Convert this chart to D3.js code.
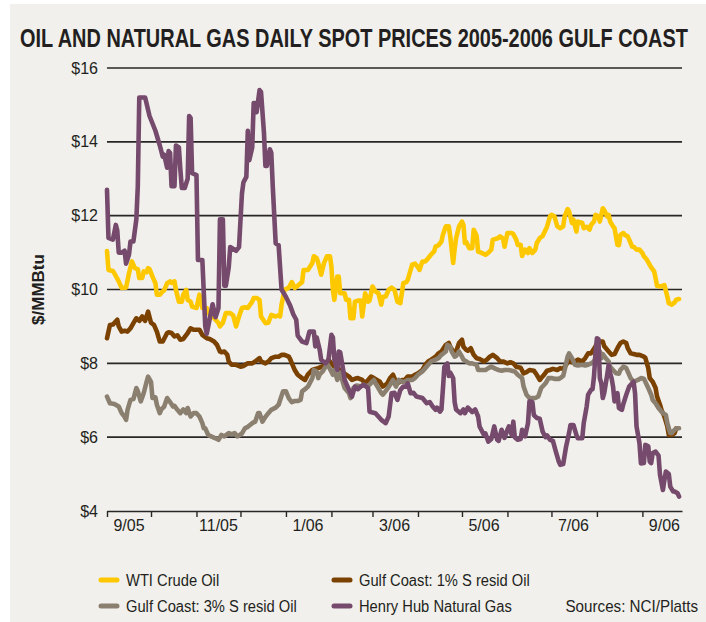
<!DOCTYPE html>
<html>
<head>
<meta charset="utf-8">
<script src="https://cdn.jsdelivr.net/npm/d3@7"></script>
<style>
  body { margin: 0; background: #fff; }
  svg { display: block; }
  text { font-family: "Liberation Sans", Arial, sans-serif; fill: #231f20; }
</style>
</head>
<body>
<svg width="706" height="622"></svg>
<script>
// daily spot prices, $/MMBtu
var wti = [["2005-09-01",11.04],["2005-09-02",10.53],["2005-09-05",10.5],["2005-09-06",10.44],["2005-09-09",10.22],["2005-09-11",10.04],["2005-09-14",10.05],["2005-09-16",10.44],["2005-09-18",10.76],["2005-09-20",10.58],["2005-09-22",10.55],["2005-09-23",10.31],["2005-09-25",10.31],["2005-09-26",10.49],["2005-09-28",10.47],["2005-09-29",10.58],["2005-09-30",10.55],["2005-10-02",10.35],["2005-10-04",10.17],["2005-10-05",9.86],["2005-10-07",9.86],["2005-10-09",9.95],["2005-10-10",9.98],["2005-10-12",10.17],["2005-10-14",10.22],["2005-10-15",10.18],["2005-10-17",10.22],["2005-10-18",9.99],["2005-10-20",9.67],["2005-10-22",9.67],["2005-10-23",9.86],["2005-10-25",9.99],["2005-10-26",9.72],["2005-10-28",9.67],["2005-10-29",9.54],["2005-11-01",9.5],["2005-11-03",9.86],["2005-11-05",9.5],["2005-11-08",9.5],["2005-11-09",9.36],["2005-11-11",9.32],["2005-11-14",9.18],["2005-11-16",9.09],["2005-11-17",9.0],["2005-11-19",9.1],["2005-11-21",9.36],["2005-11-24",9.36],["2005-11-26",9.3],["2005-11-28",9.0],["2005-11-30",9.27],["2005-12-02",9.5],["2005-12-04",9.52],["2005-12-06",9.5],["2005-12-09",9.67],["2005-12-10",9.77],["2005-12-12",9.77],["2005-12-14",9.72],["2005-12-15",9.27],["2005-12-18",9.09],["2005-12-20",9.1],["2005-12-22",9.31],["2005-12-25",9.27],["2005-12-27",9.3],["2005-12-28",9.27],["2005-12-29",9.59],["2005-12-31",9.99],["2006-01-03",10.05],["2006-01-05",10.2],["2006-01-07",10.04],["2006-01-09",10.1],["2006-01-12",10.2],["2006-01-13",10.53],["2006-01-16",10.53],["2006-01-19",10.72],["2006-01-20",10.9],["2006-01-22",10.85],["2006-01-23",10.72],["2006-01-25",10.4],["2006-01-27",10.72],["2006-01-29",10.9],["2006-01-31",10.9],["2006-02-01",10.62],["2006-02-02",9.99],["2006-02-03",9.72],["2006-02-05",10.35],["2006-02-06",10.35],["2006-02-07",9.9],["2006-02-10",9.9],["2006-02-11",9.72],["2006-02-13",9.72],["2006-02-14",9.22],["2006-02-16",9.22],["2006-02-17",9.67],["2006-02-19",9.7],["2006-02-21",9.7],["2006-02-22",9.27],["2006-02-24",9.9],["2006-02-26",9.67],["2006-02-27",9.7],["2006-03-01",10.08],["2006-03-03",9.95],["2006-03-05",9.9],["2006-03-07",9.59],["2006-03-08",9.8],["2006-03-10",9.81],["2006-03-12",9.99],["2006-03-14",10.05],["2006-03-16",9.99],["2006-03-18",9.67],["2006-03-20",9.63],["2006-03-22",10.17],["2006-03-24",10.2],["2006-03-25",10.26],["2006-03-27",10.53],["2006-03-28",10.67],["2006-03-30",10.7],["2006-04-01",10.6],["2006-04-02",10.53],["2006-04-04",10.76],["2006-04-06",10.76],["2006-04-07",10.8],["2006-04-09",10.9],["2006-04-10",10.95],["2006-04-12",11.03],["2006-04-13",11.16],["2006-04-15",11.2],["2006-04-17",11.3],["2006-04-18",11.48],["2006-04-20",11.71],["2006-04-22",11.71],["2006-04-23",11.44],["2006-04-25",10.72],["2006-04-26",11.1],["2006-04-27",11.39],["2006-04-29",11.71],["2006-05-01",11.84],["2006-05-02",11.75],["2006-05-03",11.26],["2006-05-04",11.28],["2006-05-06",11.12],["2006-05-08",11.12],["2006-05-09",11.62],["2006-05-11",11.45],["2006-05-12",11.03],["2006-05-14",11.0],["2006-05-17",10.94],["2006-05-19",11.0],["2006-05-21",11.08],["2006-05-22",11.35],["2006-05-25",11.38],["2006-05-27",11.44],["2006-05-29",11.38],["2006-05-30",11.16],["2006-06-01",11.53],["2006-06-04",11.53],["2006-06-05",11.5],["2006-06-07",11.35],["2006-06-08",11.21],["2006-06-10",11.21],["2006-06-11",10.91],["2006-06-13",11.08],["2006-06-15",10.99],["2006-06-16",11.12],["2006-06-18",10.99],["2006-06-20",11.08],["2006-06-21",11.26],["2006-06-23",11.39],["2006-06-25",11.45],["2006-06-27",11.62],["2006-06-28",11.7],["2006-06-30",11.98],["2006-07-01",12.02],["2006-07-03",11.98],["2006-07-05",11.71],["2006-07-07",11.66],["2006-07-09",11.71],["2006-07-10",11.98],["2006-07-12",12.18],["2006-07-13",12.12],["2006-07-15",11.8],["2006-07-16",11.89],["2006-07-18",11.57],["2006-07-19",11.84],["2006-07-22",11.8],["2006-07-23",11.66],["2006-07-25",11.7],["2006-07-27",11.62],["2006-07-28",11.75],["2006-07-30",11.84],["2006-07-31",12.02],["2006-08-02",11.98],["2006-08-03",11.84],["2006-08-05",12.2],["2006-08-06",12.15],["2006-08-08",11.98],["2006-08-09",12.02],["2006-08-10",11.84],["2006-08-12",11.71],["2006-08-13",11.66],["2006-08-15",11.21],["2006-08-16",11.2],["2006-08-17",11.48],["2006-08-19",11.53],["2006-08-20",11.48],["2006-08-22",11.44],["2006-08-23",11.35],["2006-08-25",11.16],["2006-08-26",11.16],["2006-08-28",11.08],["2006-08-30",11.08],["2006-09-01",10.99],["2006-09-02",10.9],["2006-09-04",10.81],["2006-09-06",10.67],["2006-09-07",10.6],["2006-09-09",10.49],["2006-09-10",10.31],["2006-09-11",10.1],["2006-09-13",10.08],["2006-09-15",10.1],["2006-09-16",10.12],["2006-09-18",9.81],["2006-09-19",9.63],["2006-09-21",9.59],["2006-09-23",9.65],["2006-09-24",9.72],["2006-09-26",9.74]];

var resid1 = [["2005-09-01",8.68],["2005-09-03",9.04],["2005-09-05",9.05],["2005-09-08",9.18],["2005-09-09",9.0],["2005-09-11",8.86],["2005-09-13",8.88],["2005-09-15",8.86],["2005-09-17",8.95],["2005-09-19",9.09],["2005-09-21",9.22],["2005-09-23",9.15],["2005-09-25",9.27],["2005-09-27",9.15],["2005-09-29",9.4],["2005-10-01",9.1],["2005-10-03",9.04],["2005-10-05",8.86],["2005-10-07",8.59],["2005-10-09",8.59],["2005-10-12",8.82],["2005-10-13",8.84],["2005-10-15",8.82],["2005-10-17",8.73],["2005-10-19",8.76],["2005-10-21",8.64],["2005-10-23",8.66],["2005-10-26",8.82],["2005-10-28",8.95],["2005-10-30",8.91],["2005-11-01",8.91],["2005-11-03",8.91],["2005-11-05",8.77],["2005-11-08",8.68],["2005-11-10",8.66],["2005-11-13",8.59],["2005-11-15",8.5],["2005-11-17",8.32],["2005-11-18",8.3],["2005-11-20",8.32],["2005-11-22",8.23],["2005-11-23",8.05],["2005-11-25",7.96],["2005-11-28",7.96],["2005-12-01",7.91],["2005-12-03",7.93],["2005-12-06",8.0],["2005-12-09",8.0],["2005-12-11",8.05],["2005-12-14",8.14],["2005-12-15",8.05],["2005-12-18",8.0],["2005-12-20",8.05],["2005-12-22",8.14],["2005-12-25",8.18],["2005-12-27",8.18],["2005-12-29",8.23],["2005-12-31",8.23],["2006-01-03",8.18],["2006-01-04",8.1],["2006-01-06",7.91],["2006-01-07",7.82],["2006-01-09",7.69],["2006-01-12",7.6],["2006-01-14",7.55],["2006-01-16",7.7],["2006-01-19",7.82],["2006-01-21",7.85],["2006-01-23",7.87],["2006-01-25",7.9],["2006-01-28",7.96],["2006-01-30",8.1],["2006-02-01",8.0],["2006-02-03",7.91],["2006-02-06",7.85],["2006-02-08",7.78],["2006-02-10",7.72],["2006-02-13",7.64],["2006-02-15",7.55],["2006-02-17",7.58],["2006-02-19",7.6],["2006-02-22",7.55],["2006-02-24",7.46],["2006-02-26",7.55],["2006-02-28",7.64],["2006-03-02",7.6],["2006-03-04",7.55],["2006-03-06",7.5],["2006-03-08",7.37],["2006-03-11",7.45],["2006-03-13",7.6],["2006-03-15",7.69],["2006-03-17",7.5],["2006-03-19",7.48],["2006-03-21",7.55],["2006-03-23",7.55],["2006-03-25",7.64],["2006-03-28",7.64],["2006-03-30",7.69],["2006-04-01",7.73],["2006-04-04",7.82],["2006-04-06",7.96],["2006-04-08",8.05],["2006-04-10",8.1],["2006-04-13",8.18],["2006-04-15",8.27],["2006-04-17",8.32],["2006-04-20",8.5],["2006-04-22",8.55],["2006-04-23",8.45],["2006-04-25",8.32],["2006-04-27",8.32],["2006-04-29",8.55],["2006-05-01",8.64],["2006-05-02",8.45],["2006-05-04",8.36],["2006-05-05",8.34],["2006-05-07",8.41],["2006-05-09",8.23],["2006-05-11",8.14],["2006-05-13",8.12],["2006-05-16",8.05],["2006-05-18",8.1],["2006-05-20",8.18],["2006-05-22",8.23],["2006-05-25",8.14],["2006-05-27",8.05],["2006-05-29",8.05],["2006-06-01",8.0],["2006-06-03",8.03],["2006-06-05",8.0],["2006-06-07",7.91],["2006-06-10",7.88],["2006-06-12",7.73],["2006-06-14",7.76],["2006-06-16",7.82],["2006-06-19",7.8],["2006-06-21",7.69],["2006-06-23",7.55],["2006-06-24",7.6],["2006-06-26",7.69],["2006-06-28",7.8],["2006-06-30",7.82],["2006-07-02",7.85],["2006-07-05",7.82],["2006-07-07",7.87],["2006-07-09",7.85],["2006-07-11",7.96],["2006-07-13",8.1],["2006-07-15",8.03],["2006-07-17",8.05],["2006-07-19",8.1],["2006-07-22",8.05],["2006-07-24",8.14],["2006-07-26",8.27],["2006-07-28",8.27],["2006-07-31",8.46],["2006-08-01",8.52],["2006-08-03",8.59],["2006-08-05",8.59],["2006-08-06",8.46],["2006-08-09",8.32],["2006-08-11",8.23],["2006-08-13",8.25],["2006-08-15",8.41],["2006-08-17",8.55],["2006-08-19",8.59],["2006-08-21",8.55],["2006-08-22",8.41],["2006-08-24",8.27],["2006-08-26",8.25],["2006-08-28",8.23],["2006-08-30",8.23],["2006-09-02",8.18],["2006-09-03",8.15],["2006-09-05",7.87],["2006-09-06",7.6],["2006-09-08",7.5],["2006-09-10",7.33],["2006-09-11",7.1],["2006-09-13",6.88],["2006-09-14",6.74],["2006-09-16",6.56],["2006-09-18",6.29],["2006-09-19",6.06],["2006-09-21",6.06],["2006-09-23",6.11],["2006-09-24",6.24]];

var resid3 = [["2005-09-01",7.1],["2005-09-03",6.92],["2005-09-06",6.9],["2005-09-09",6.83],["2005-09-11",6.65],["2005-09-13",6.55],["2005-09-14",6.47],["2005-09-15",6.74],["2005-09-17",7.01],["2005-09-19",7.03],["2005-09-21",7.33],["2005-09-22",7.25],["2005-09-24",6.97],["2005-09-26",7.19],["2005-09-28",7.5],["2005-09-29",7.64],["2005-10-01",7.5],["2005-10-02",7.06],["2005-10-04",7.08],["2005-10-05",6.88],["2005-10-07",6.65],["2005-10-08",6.75],["2005-10-10",6.83],["2005-10-12",7.06],["2005-10-14",6.95],["2005-10-16",6.83],["2005-10-17",6.85],["2005-10-19",6.74],["2005-10-21",6.65],["2005-10-23",6.75],["2005-10-25",6.65],["2005-10-26",6.79],["2005-10-28",6.56],["2005-10-30",6.65],["2005-11-01",6.65],["2005-11-03",6.56],["2005-11-05",6.38],["2005-11-06",6.24],["2005-11-07",6.24],["2005-11-09",6.06],["2005-11-11",6.02],["2005-11-14",5.97],["2005-11-16",5.93],["2005-11-18",6.06],["2005-11-20",6.02],["2005-11-23",6.11],["2005-11-25",6.08],["2005-11-27",6.11],["2005-11-29",6.02],["2005-12-02",6.1],["2005-12-04",6.24],["2005-12-06",6.28],["2005-12-09",6.38],["2005-12-11",6.42],["2005-12-13",6.65],["2005-12-14",6.65],["2005-12-16",6.42],["2005-12-18",6.55],["2005-12-20",6.65],["2005-12-22",6.74],["2005-12-25",6.8],["2005-12-27",6.88],["2005-12-28",7.0],["2005-12-30",7.24],["2006-01-01",7.24],["2006-01-03",7.05],["2006-01-05",6.95],["2006-01-07",6.98],["2006-01-09",6.98],["2006-01-11",7.01],["2006-01-12",7.24],["2006-01-14",7.3],["2006-01-16",7.37],["2006-01-19",7.6],["2006-01-20",7.82],["2006-01-22",7.78],["2006-01-23",7.6],["2006-01-24",7.7],["2006-01-26",7.78],["2006-01-28",7.91],["2006-01-29",8.0],["2006-01-31",7.85],["2006-02-02",7.69],["2006-02-03",7.82],["2006-02-05",7.55],["2006-02-07",7.75],["2006-02-09",7.46],["2006-02-10",7.33],["2006-02-13",7.19],["2006-02-14",7.06],["2006-02-16",7.33],["2006-02-18",7.4],["2006-02-21",7.38],["2006-02-23",7.42],["2006-02-25",7.38],["2006-02-27",7.42],["2006-03-02",7.55],["2006-03-03",7.46],["2006-03-05",7.33],["2006-03-07",7.19],["2006-03-08",7.15],["2006-03-11",7.3],["2006-03-13",7.42],["2006-03-15",7.55],["2006-03-17",7.37],["2006-03-19",7.55],["2006-03-21",7.5],["2006-03-23",7.5],["2006-03-25",7.55],["2006-03-28",7.55],["2006-03-30",7.6],["2006-04-01",7.69],["2006-04-04",7.78],["2006-04-06",7.87],["2006-04-08",7.96],["2006-04-10",8.05],["2006-04-13",8.1],["2006-04-15",8.14],["2006-04-17",8.23],["2006-04-20",8.32],["2006-04-21",8.5],["2006-04-23",8.45],["2006-04-24",8.32],["2006-04-26",8.18],["2006-04-27",8.2],["2006-04-29",8.32],["2006-05-01",8.18],["2006-05-02",8.1],["2006-05-04",8.05],["2006-05-06",8.0],["2006-05-08",8.0],["2006-05-11",7.96],["2006-05-12",7.82],["2006-05-14",7.82],["2006-05-17",7.82],["2006-05-19",7.87],["2006-05-21",7.91],["2006-05-24",7.85],["2006-05-26",7.82],["2006-05-28",7.8],["2006-05-30",7.82],["2006-06-02",7.82],["2006-06-04",7.8],["2006-06-06",7.78],["2006-06-08",7.69],["2006-06-11",7.6],["2006-06-12",7.37],["2006-06-14",7.15],["2006-06-16",7.06],["2006-06-18",7.06],["2006-06-20",7.06],["2006-06-22",7.1],["2006-06-24",7.33],["2006-06-27",7.46],["2006-06-29",7.6],["2006-07-01",7.6],["2006-07-03",7.58],["2006-07-06",7.58],["2006-07-07",7.6],["2006-07-09",7.66],["2006-07-10",7.82],["2006-07-12",8.18],["2006-07-13",8.27],["2006-07-15",8.14],["2006-07-17",7.96],["2006-07-19",7.94],["2006-07-22",7.96],["2006-07-24",7.94],["2006-07-26",7.96],["2006-07-28",8.0],["2006-07-30",8.05],["2006-08-01",8.23],["2006-08-03",8.32],["2006-08-04",8.14],["2006-08-05",8.25],["2006-08-07",8.14],["2006-08-09",8.05],["2006-08-10",7.91],["2006-08-12",7.82],["2006-08-14",7.73],["2006-08-16",7.72],["2006-08-17",7.82],["2006-08-19",7.91],["2006-08-21",7.87],["2006-08-22",7.78],["2006-08-24",7.6],["2006-08-26",7.5],["2006-08-29",7.55],["2006-08-31",7.6],["2006-09-02",7.58],["2006-09-03",7.5],["2006-09-05",7.33],["2006-09-07",7.15],["2006-09-08",7.01],["2006-09-10",6.92],["2006-09-12",6.79],["2006-09-14",6.69],["2006-09-15",6.65],["2006-09-17",6.6],["2006-09-18",6.38],["2006-09-20",6.11],["2006-09-21",6.11],["2006-09-23",6.2],["2006-09-24",6.24],["2006-09-26",6.24]];

var henryHub = [["2005-09-01",12.7],["2005-09-02",11.4],["2005-09-05",11.35],["2005-09-07",11.75],["2005-09-08",11.6],["2005-09-09",11.0],["2005-09-11",11.0],["2005-09-13",11.05],["2005-09-14",10.7],["2005-09-16",10.95],["2005-09-17",11.3],["2005-09-19",11.3],["2005-09-21",11.9],["2005-09-22",12.8],["2005-09-23",15.2],["2005-09-27",15.2],["2005-09-30",14.7],["2005-10-04",14.3],["2005-10-07",13.9],["2005-10-09",13.6],["2005-10-10",13.65],["2005-10-12",13.3],["2005-10-13",13.75],["2005-10-14",13.7],["2005-10-15",12.8],["2005-10-17",12.8],["2005-10-18",13.9],["2005-10-20",13.85],["2005-10-21",13.25],["2005-10-22",12.75],["2005-10-24",12.75],["2005-10-26",13.0],["2005-10-27",14.7],["2005-10-28",14.65],["2005-10-29",13.15],["2005-11-01",13.1],["2005-11-02",10.8],["2005-11-05",10.8],["2005-11-06",9.9],["2005-11-07",9.0],["2005-11-08",8.8],["2005-11-12",9.6],["2005-11-14",9.25],["2005-11-16",9.5],["2005-11-17",11.9],["2005-11-19",11.9],["2005-11-20",10.1],["2005-11-21",10.1],["2005-11-23",10.6],["2005-11-24",11.15],["2005-11-28",11.05],["2005-11-30",11.15],["2005-12-02",12.6],["2005-12-03",12.9],["2005-12-05",13.05],["2005-12-06",14.3],["2005-12-07",13.5],["2005-12-09",13.85],["2005-12-10",15.05],["2005-12-11",15.05],["2005-12-12",14.8],["2005-12-14",15.4],["2005-12-15",15.35],["2005-12-17",14.25],["2005-12-18",13.35],["2005-12-19",13.35],["2005-12-21",13.8],["2005-12-22",13.7],["2005-12-23",12.8],["2005-12-25",11.25],["2005-12-27",11.2],["2005-12-29",10.0],["2006-01-01",9.8],["2006-01-04",9.55],["2006-01-06",9.33],["2006-01-08",9.18],["2006-01-09",8.75],["2006-01-12",8.59],["2006-01-15",8.55],["2006-01-17",8.86],["2006-01-20",8.86],["2006-01-21",8.46],["2006-01-22",8.7],["2006-01-24",8.37],["2006-01-25",8.1],["2006-01-28",8.0],["2006-01-30",8.1],["2006-02-01",8.77],["2006-02-02",8.7],["2006-02-03",8.1],["2006-02-05",7.82],["2006-02-06",8.32],["2006-02-07",8.3],["2006-02-09",7.82],["2006-02-10",7.55],["2006-02-13",7.28],["2006-02-15",7.1],["2006-02-17",7.37],["2006-02-19",7.3],["2006-02-21",7.37],["2006-02-23",7.42],["2006-02-26",7.33],["2006-02-27",6.69],["2006-03-03",6.65],["2006-03-05",6.56],["2006-03-07",6.47],["2006-03-10",6.38],["2006-03-12",6.56],["2006-03-14",7.19],["2006-03-16",7.2],["2006-03-18",7.01],["2006-03-20",7.28],["2006-03-22",7.37],["2006-03-24",7.37],["2006-03-25",7.46],["2006-03-27",7.19],["2006-03-29",7.2],["2006-03-31",7.1],["2006-04-04",7.06],["2006-04-07",6.92],["2006-04-09",6.95],["2006-04-11",6.83],["2006-04-13",6.74],["2006-04-14",6.8],["2006-04-16",6.69],["2006-04-17",6.75],["2006-04-18",7.3],["2006-04-19",7.9],["2006-04-21",8.0],["2006-04-22",7.66],["2006-04-23",7.75],["2006-04-25",7.6],["2006-04-26",6.95],["2006-04-27",6.75],["2006-04-30",6.65],["2006-05-02",6.75],["2006-05-03",6.65],["2006-05-05",6.8],["2006-05-08",6.68],["2006-05-10",6.75],["2006-05-12",6.56],["2006-05-13",6.29],["2006-05-16",6.06],["2006-05-17",6.1],["2006-05-19",5.88],["2006-05-21",5.95],["2006-05-23",6.29],["2006-05-25",5.93],["2006-05-26",5.9],["2006-05-28",6.2],["2006-05-30",5.98],["2006-06-01",6.2],["2006-06-02",6.29],["2006-06-04",6.05],["2006-06-05",6.42],["2006-06-06",6.0],["2006-06-08",5.93],["2006-06-10",5.95],["2006-06-11",6.2],["2006-06-13",6.02],["2006-06-15",6.38],["2006-06-16",6.97],["2006-06-18",6.95],["2006-06-19",6.6],["2006-06-21",6.52],["2006-06-23",6.5],["2006-06-25",6.15],["2006-06-27",6.0],["2006-06-28",6.05],["2006-06-30",5.93],["2006-07-02",5.9],["2006-07-04",5.61],["2006-07-06",5.34],["2006-07-07",5.25],["2006-07-09",5.27],["2006-07-11",5.75],["2006-07-13",6.11],["2006-07-14",6.33],["2006-07-16",6.33],["2006-07-18",6.06],["2006-07-19",5.97],["2006-07-22",5.97],["2006-07-23",6.38],["2006-07-25",6.83],["2006-07-26",7.15],["2006-07-28",7.28],["2006-07-29",7.3],["2006-07-30",7.64],["2006-07-31",8.27],["2006-08-01",8.68],["2006-08-02",8.66],["2006-08-03",7.6],["2006-08-04",7.46],["2006-08-05",7.06],["2006-08-06",7.2],["2006-08-08",7.69],["2006-08-09",7.96],["2006-08-10",7.73],["2006-08-11",7.6],["2006-08-12",7.37],["2006-08-13",6.97],["2006-08-15",7.19],["2006-08-16",6.79],["2006-08-18",6.74],["2006-08-19",6.9],["2006-08-21",7.15],["2006-08-23",7.37],["2006-08-25",7.46],["2006-08-26",7.5],["2006-08-27",7.19],["2006-08-28",6.29],["2006-08-30",5.84],["2006-08-31",5.29],["2006-09-02",5.3],["2006-09-03",5.79],["2006-09-05",5.75],["2006-09-06",5.34],["2006-09-07",5.3],["2006-09-08",5.57],["2006-09-10",5.61],["2006-09-12",5.5],["2006-09-13",4.98],["2006-09-15",4.57],["2006-09-16",4.84],["2006-09-17",5.07],["2006-09-19",5.0],["2006-09-20",4.66],["2006-09-22",4.53],["2006-09-23",4.53],["2006-09-25",4.48],["2006-09-26",4.39]];

var seriesNames = ["WTI Crude Oil", "Gulf Coast: 1% S resid Oil", "Gulf Coast: 3% S resid Oil", "Henry Hub Natural Gas"];
var seriesColors = ["#fec800", "#7a4100", "#8b8070", "#754a6c"];
var yTicks = [4, 6, 8, 10, 12, 14, 16];
var dateRange = ["2005-09-01", "2006-09-28"];

var parse = d3.timeParse("%Y-%m-%d");
var series = [wti, resid1, resid3, henryHub].map(function(s, i) {
  return {
    name: seriesNames[i],
    color: seriesColors[i],
    values: s.map(function(d) { return { date: parse(d[0]), price: d[1] }; })
  };
});

var svg = d3.select("svg");

svg.append("rect")
  .attr("x", 10).attr("y", 4)
  .attr("width", 696).attr("height", 618)
  .attr("fill", "#f1f0ec");

var margin = { left: 107, right: 24, top: 68, bottom: 111 },
  width = 706 - margin.left - margin.right,
  height = 622 - margin.top - margin.bottom;

var x = d3.scaleTime()
  .domain(dateRange.map(parse))
  .range([margin.left, margin.left + width]);
var y = d3.scaleLinear()
  .domain([4, 16])
  .range([margin.top + height, margin.top]);

// squeeze text horizontally to mimic the condensed face of the original
function narrow(sel, k) {
  sel.attr("transform", function() {
    var t = d3.select(this);
    var tx = +t.attr("x") || 0, ty = +t.attr("y") || 0;
    var s = typeof k === "function" ? k(this) : k;
    return "translate(" + tx + "," + ty + ")scale(" + s + ",1)translate(" + -tx + "," + -ty + ")";
  });
}

// title, squeezed to the width it has in the original
svg.append("text")
  .attr("x", 354)
  .attr("y", 47)
  .attr("text-anchor", "middle")
  .style("font-size", "26px")
  .style("font-weight", "bold")
  .text("OIL AND NATURAL GAS DAILY SPOT PRICES 2005-2006 GULF COAST")
  .call(narrow, function(node) { return 668 / node.getComputedTextLength(); });

// grid lines
svg.append("g")
  .selectAll("line")
  .data(yTicks.filter(function(d) { return d > 4; }))
  .enter()
  .append("line")
  .attr("x1", x.range()[0])
  .attr("x2", x.range()[1])
  .attr("y1", function(d) { return y(d); })
  .attr("y2", function(d) { return y(d); })
  .attr("stroke", "#2a2627")
  .attr("stroke-width", 1.6);

// y labels
svg.append("g")
  .selectAll("text")
  .data(yTicks)
  .enter()
  .append("text")
  .attr("x", 98)
  .attr("y", function(d) { return y(d); })
  .attr("dy", "0.35em")
  .attr("text-anchor", "end")
  .style("font-size", "16px")
  .text(function(d) { return "$" + d; });

svg.append("text")
  .attr("transform", "translate(44," + y(10) + ")rotate(-90)")
  .attr("text-anchor", "middle")
  .style("font-size", "17px")
  .style("font-weight", "bold")
  .text("$/MMBtu");

// x axis: month ticks, labels every other month
var xAxis = d3.axisBottom(x)
  .tickValues(d3.timeMonth.range(x.domain()[0], x.domain()[1]))
  .tickSize(6)
  .tickSizeOuter(0)
  .tickFormat("");

var gx = svg.append("g")
  .attr("transform", "translate(0," + y(4) + ")")
  .call(xAxis);
gx.select(".domain").attr("stroke", "#2a2627").attr("stroke-width", 1.6);
gx.selectAll(".tick line").attr("stroke", "#2a2627").attr("stroke-width", 1.4);

var labelMonths = d3.timeMonth.every(2).range(x.domain()[0], x.domain()[1]);
svg.append("g")
  .selectAll("text")
  .data(labelMonths)
  .enter()
  .append("text")
  .attr("x", function(d) { return x(d3.timeDay.offset(d, 15)); })
  .attr("y", y(4) + 20)
  .attr("text-anchor", "middle")
  .style("font-size", "16px")
  .text(d3.timeFormat("%-m/%y"));

// lines
var line = d3.line()
  .x(function(d) { return x(d.date); })
  .y(function(d) { return y(d.price); });

svg.append("g")
  .selectAll("path")
  .data(series)
  .enter()
  .append("path")
  .attr("d", function(d) { return line(d.values); })
  .attr("fill", "none")
  .attr("stroke", function(d) { return d.color; })
  .attr("stroke-width", 4.6)
  .attr("stroke-linejoin", "round")
  .attr("stroke-linecap", "round");

// legend
var legend = { x: [101, 334], y: [580, 606], len: 16 };
var leg = svg.append("g")
  .selectAll("g")
  .data(series)
  .enter()
  .append("g")
  .attr("transform", function(d, i) {
    return "translate(" + legend.x[i % 2] + "," + legend.y[Math.floor(i / 2)] + ")";
  });
leg.append("line")
  .attr("x1", 0).attr("x2", legend.len)
  .attr("stroke", function(d) { return d.color; })
  .attr("stroke-width", 5)
  .attr("stroke-linecap", "round");
leg.append("text")
  .attr("x", legend.len + 9)
  .attr("y", 0)
  .attr("dy", "0.35em")
  .style("font-size", "16px")
  .text(function(d) { return d.name; })
  .call(narrow, 0.92);

svg.append("text")
  .attr("x", 698)
  .attr("y", 606)
  .attr("dy", "0.35em")
  .attr("text-anchor", "end")
  .style("font-size", "16px")
  .text("Sources: NCI/Platts")
  .call(narrow, 0.95);
</script>
</body>
</html>
